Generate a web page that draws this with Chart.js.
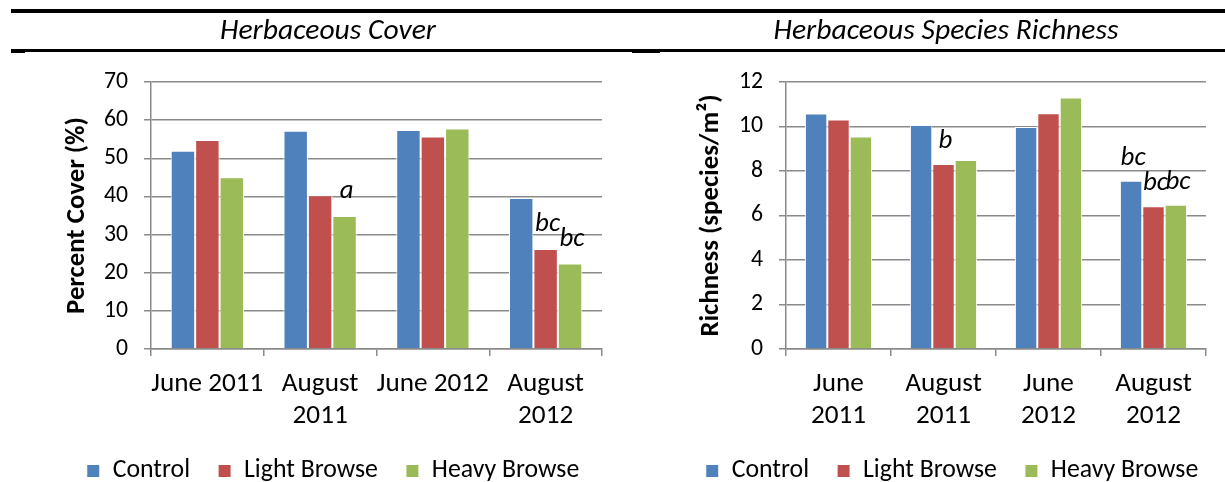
<!DOCTYPE html>
<html><head><meta charset="utf-8">
<script src="https://cdn.jsdelivr.net/npm/chart.js@4.4.1/dist/chart.umd.min.js"></script>
<style>
html,body{margin:0;padding:0;background:#fff;overflow:hidden;width:1225px;height:482px;}
#wrap{position:relative;width:1225px;height:482px;overflow:hidden;background:#fff;}
.box{position:absolute;top:0;}
.rule{position:absolute;background:#000;}
</style></head><body>
<div id="wrap">
  <div class="box" style="left:0;width:660px;height:493px"><canvas id="cover" width="660" height="493"></canvas></div>
  <div class="box" style="left:620px;width:605px;height:493px"><canvas id="rich" width="605" height="493"></canvas></div>
  <div class="rule" style="left:11px;top:9px;width:1214px;height:4px"></div>
  <div class="rule" style="left:11px;top:49px;width:14px;height:4px"></div>
  <div class="rule" style="left:25px;top:49px;width:607px;height:2.5px"></div>
  <div class="rule" style="left:632px;top:49px;width:28px;height:4px"></div>
  <div class="rule" style="left:660px;top:49px;width:565px;height:3px"></div>
</div>
<script>
// ---------- data ----------
const seriesNames = ["Control", "Light Browse", "Heavy Browse"];
const coverLabels = ["June 2011", ["August", "2011"], "June 2012", ["August", "2012"]];
const richLabels = [["June", "2011"], ["August", "2011"], ["June", "2012"], ["August", "2012"]];

const coverControl = [52.0, 57.2, 57.4, 39.6];
const coverLight   = [54.8, 40.3, 55.7, 26.2];
const coverHeavy   = [45.0, 34.9, 57.8, 22.4];

const richControl = [10.58, 10.07, 9.98, 7.56];
const richLight   = [10.32, 8.32, 10.60, 6.42];
const richHeavy   = [9.55, 8.50, 11.30, 6.48];

const coverControlLetters = ["", "", "", ""];
const coverLightLetters   = ["", "", "", "bc"];
const coverHeavyLetters   = ["", "a", "", "bc"];
const richControlLetters  = ["", "", "", "bc"];
const richLightLetters    = ["", "b", "", "bc"];
const richHeavyLetters    = ["", "", "", "bc"];

const coverTicks = [0, 10, 20, 30, 40, 50, 60, 70];
const richTicks = [0, 2, 4, 6, 8, 10, 12];

// ---------- styling ----------
const FONT = "Carlito, Lato, sans-serif";
const colors = ["#4F81BD", "#C0504D", "#9BBB59"];
const GRID = "#8a8a8a";

function fit(text, target, style, weight) {
  const c = document.createElement('canvas').getContext('2d');
  c.font = (style || 'normal') + ' ' + (weight || 'normal') + ' 100px ' + FONT;
  return Math.round(1000 * target / c.measureText(text).width) / 10;
}
const titleSize  = fit('Herbaceous Cover', 216, 'italic');
const xTickSize  = fit('June 2011', 112);
const yTickSize  = fit('70', 24);
const yTitleSize = fit('Percent Cover (%)', 197, 'normal', 'bold');
const legendSize = fit('Control Light Browse Heavy Browse', 370);
const letterSize = fit('bc', 25, 'italic');

const CANVAS_H = 493, PLOT_TOP = 82, PLOT_BOTTOM = 349, TITLE_Y = 32, LEGEND_Y = 471;
const legendGap = 28;
const legendH = Math.max(legendSize, 13) + legendGap + 10;

function makeChart(id, o) {
  const lettersPlugin = {
    id: 'letters',
    afterDatasetsDraw(chart) {
      const ctx = chart.ctx;
      ctx.save();
      ctx.font = 'italic normal ' + letterSize + 'px ' + FONT;
      ctx.fillStyle = '#000';
      ctx.textAlign = 'center';
      ctx.textBaseline = 'alphabetic';
      o.letters.forEach((arr, di) => {
        const meta = chart.getDatasetMeta(di);
        arr.forEach((t, i) => {
          if (!t) return;
          const el = meta.data[i];
          ctx.fillText(t, el.x + 2, el.y - o.letterGap);
        });
      });
      ctx.restore();
    }
  };
  const placePlugin = {
    id: 'place',
    afterLayout(chart) {
      const lg = chart.legend;
      if (lg) {
        const dx = o.legendX - (lg.left + lg.right) / 2;
        lg.left += dx; lg.right += dx;
        const itemH = Math.max(legendSize, 13);
        const dy = LEGEND_Y - (lg.top + legendGap + itemH / 2);
        lg.top += dy; lg.bottom += dy;
      }
      const tb = chart.titleBlock;
      if (tb) {
        const dx = o.titleX - (tb.left + tb.right) / 2;
        tb.left += dx; tb.right += dx;
      }
    }
  };
  const yTitleLH = yTitleSize * 1.2;
  return new Chart(document.getElementById(id), {
    type: 'bar',
    data: {
      labels: o.labels,
      datasets: seriesNames.map((n, i) => ({
        label: n, data: o.values[i], backgroundColor: colors[i],
        borderColor: '#ffffff', borderWidth: 1,
        categoryPercentage: o.catPct, barPercentage: 1.0
      }))
    },
    options: {
      responsive: false, animation: false, devicePixelRatio: 1,
      layout: { padding: { left: 0, right: o.padRight, top: 0, bottom: 0 } },
      plugins: {
        title: {
          display: true, text: o.title, color: '#000',
          font: { family: FONT, size: titleSize, style: 'italic', weight: 'normal', lineHeight: 1.2 },
          padding: { top: TITLE_Y - titleSize * 0.6, bottom: PLOT_TOP - TITLE_Y - titleSize * 0.6 }
        },
        legend: {
          position: 'bottom',
          labels: { color: '#000', font: { family: FONT, size: legendSize }, boxWidth: 13, boxHeight: 13, padding: legendGap }
        },
        tooltip: { enabled: false }
      },
      scales: {
        x: {
          ticks: { color: '#000', font: { family: FONT, size: xTickSize, lineHeight: '32px' }, padding: 12, maxRotation: 0, autoSkip: false },
          grid: { display: true, drawOnChartArea: false, drawTicks: true, tickLength: 7, color: GRID, lineWidth: 1.5 },
          border: { display: true, color: GRID, width: 1.5 },
          afterFit: s => { s.height = CANVAS_H - legendH - PLOT_BOTTOM; }
        },
        y: {
          min: o.ticks[0], max: o.ticks[o.ticks.length - 1],
          afterBuildTicks: s => { s.ticks = o.ticks.map(v => ({ value: v })); },
          ticks: { color: '#000', font: { family: FONT, size: yTickSize }, padding: 16 },
          grid: { color: GRID, lineWidth: 1.5, tickLength: 7 },
          border: { display: true, color: GRID, width: 1.5 },
          title: {
            display: true, text: o.yTitle, color: '#000',
            font: { family: FONT, size: yTitleSize, weight: 'bold', lineHeight: 1.2 },
            padding: { top: o.yTitleX - yTitleLH / 2, bottom: 0 }
          },
          afterFit: s => { s.width = o.yWidth; }
        }
      }
    },
    plugins: [lettersPlugin, placePlugin]
  });
}

makeChart('cover', {
  labels: coverLabels,
  values: [coverControl, coverLight, coverHeavy],
  letters: [coverControlLetters, coverLightLetters, coverHeavyLetters],
  ticks: coverTicks,
  title: 'Herbaceous Cover', yTitle: 'Percent Cover (%)',
  yWidth: 151, padRight: 58, yTitleX: 77, titleX: 328, legendX: 333, letterGap: 18, catPct: 0.65
});
makeChart('rich', {
  labels: richLabels,
  values: [richControl, richLight, richHeavy],
  letters: [richControlLetters, richLightLetters, richHeavyLetters],
  ticks: richTicks,
  title: 'Herbaceous Species Richness', yTitle: 'Richness (species/m²)',
  yWidth: 166, padRight: 19, yTitleX: 91, titleX: 326, legendX: 332, letterGap: 16, catPct: 0.64
});
</script>
</body></html>
